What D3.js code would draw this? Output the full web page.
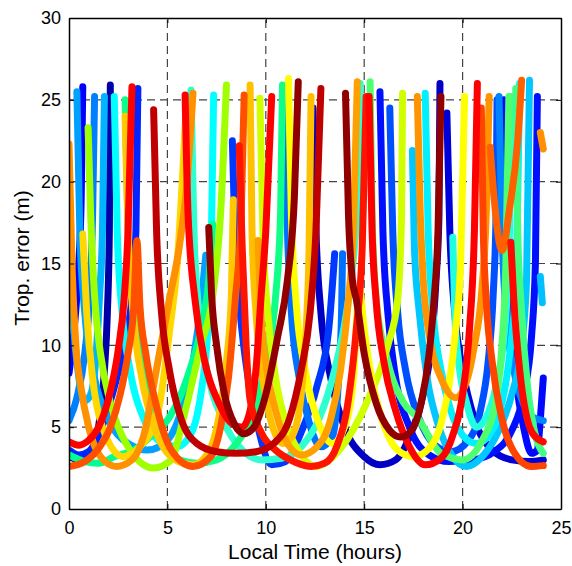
<!DOCTYPE html>
<html>
<head>
<meta charset="utf-8">
<script src="https://cdn.jsdelivr.net/npm/d3@7"></script>
<style>
  body { margin: 0; background: #fff; }
  svg { display: block; font-family: "Liberation Sans", Arial, sans-serif; }
</style>
</head>
<body>
<svg id="chart" width="572" height="566"></svg>
<script>
// tick values
const xTicks = [0, 5, 10, 15, 20, 25];
const yTicks = [0, 5, 10, 15, 20, 25, 30];

// passes: [local time (h), trop. error (m)]
const passDB1 = [[0,3.2],[0.6,3.0],[1.1,3.5],[1.5,5],[1.8,8.5],[1.95,12],[2.05,17],[2.1,25.9]];
const passDB2 = [[12.4,24.5],[12.55,17],[12.8,12],[13.3,8],[14.0,5],[15.0,3.2],[15.8,2.7],[16.6,3.0],[17.4,4.7],[18.0,7],[18.4,10],[18.65,14],[18.8,18],[18.85,26.0]];
const passDB3 = [[19.2,24.2],[19.35,17],[19.6,12],[20.0,8.5],[20.6,5.5],[21.5,3.6],[22.5,3.0],[23.4,2.9],[24.1,3.0]];
const passB1a = [[0,8.3],[0.3,11.5],[0.5,15],[0.62,19],[0.7,25.8]];
const passB1b = [[22.1,25.0],[22.2,17],[22.4,12],[22.7,8],[23.1,5],[23.5,3.4],[23.8,3.6],[23.95,5.5],[24.1,8.0]];
const passB2 = [[0,3.6],[0.5,3.3],[1.0,3.5],[1.5,4.5],[2.2,7],[2.8,10],[3.2,13],[3.4,17],[3.5,25.7]];
const passB3 = [[8.3,22.5],[8.45,16],[8.7,12],[9.1,8],[9.6,5],[10.3,2.7],[11.0,2.9],[11.8,4.7],[12.6,7.5],[13.2,11],[13.5,15.6]];
const passB4 = [[15.8,25.5],[15.95,17],[16.2,12],[16.6,8],[17.3,5],[18.3,3.3],[19.3,2.9],[20.5,3.0],[21.6,3.5],[22.5,4.8],[23.1,7],[23.5,10.5],[23.7,15],[23.8,25.2]];
const passB5 = [[16.3,24.5],[16.45,17],[16.7,12],[17.1,8.5],[17.8,5.5],[18.6,3.9],[19.4,3.5],[20.3,4.2],[20.9,6],[21.3,9],[21.55,13],[21.7,18],[21.75,25.0]];
const passLB1a = [[0,5.4],[0.4,6.8],[0.8,9.5],[1.05,13],[1.2,18],[1.3,25.2]];
const passLB1b = [[21.85,25.2],[22.0,17],[22.2,12],[22.6,8.5],[23.1,6.4],[23.6,5.6],[24.1,5.4]];
const passLB2 = [[0.4,25.5],[0.55,17],[0.8,12],[1.3,8],[2.0,5.5],[3.0,4.0],[4.0,3.6],[5.0,4.2],[5.7,6],[6.3,9],[6.75,13],[6.95,15.5]];
const passLB3a = [[0,19],[0.1,15],[0.25,11],[0.45,8.5],[0.8,6.6],[1.1,7],[1.35,9],[1.55,13],[1.7,17],[1.8,25.2]];
const passLB3b = [[23.95,14.2],[24.05,12.6]];
const passLB4 = [[10.95,25.0],[11.1,17],[11.3,12],[11.7,8],[12.2,5.3],[12.8,3.8],[13.4,4.5],[13.7,8],[13.85,12],[13.9,15.6]];
const passC1 = [[2.3,25.2],[2.45,17],[2.7,12],[3.1,8.5],[3.8,5.5],[4.8,4.0],[5.5,3.8],[6.2,4.6],[6.7,7],[7.0,10],[7.2,14],[7.35,25.3]];
const passC3 = [[17.45,21.9],[17.55,16],[17.8,12],[18.2,8],[18.8,5],[19.5,3.2],[20.2,2.6],[21.0,3.2],[21.8,4.7],[22.5,7],[23.0,10],[23.25,14],[23.4,26.2]];
const passC4 = [[18.1,25.4],[18.25,17],[18.5,12],[18.9,8.5],[19.4,6],[20.0,4.5],[20.7,4.0],[21.4,4.6],[22.0,6.5],[22.4,9.5],[22.7,14],[22.9,26.0]];
const passC5 = [[19.5,16.6],[19.6,12],[19.8,9],[20.2,6.5],[20.7,5.0],[21.2,5.6],[21.7,7.5],[22.1,10.5],[22.3,14],[22.4,18],[22.45,25.2]];
const passC2 = [[6.2,25.6],[6.35,17],[6.6,12],[7.1,8],[7.8,5.5],[8.8,3.6],[9.8,3.0],[10.8,3.1],[11.8,3.8],[12.7,5.5],[13.5,8.5],[14.1,12],[14.5,16],[14.7,20],[14.8,26.0]];
const passSG1a = [[0,3.3],[0.8,2.9],[1.5,2.8],[2.3,3.2],[3.3,3.6],[4.3,4.6],[5.1,5.6],[6.0,8],[6.7,11],[7.1,14],[7.3,17.4]];
const passSG1b = [[22.7,25.7],[22.8,17],[23.0,12],[23.3,7.5],[23.7,4.5],[24.1,3.4]];
const passSG2 = [[2.85,25],[3.0,17],[3.3,12],[3.8,8],[4.6,5],[5.6,3.0],[6.5,2.8],[7.5,3.0],[8.5,4],[9.4,6],[10.1,9.5],[10.5,13],[10.75,18],[10.85,25.9]];
const passSG4 = [[15.3,26.1],[15.4,18],[15.6,13],[16.2,9],[17.0,6.5],[17.7,5.6],[18.9,3.4],[20.0,3.0],[21.0,4.2],[21.7,6.7],[22.0,10],[22.2,15],[22.35,25.2]];
const passYG1 = [[0.97,23.3],[1.1,18],[1.3,13],[1.6,9.5],[2.1,6.5],[2.9,4],[4.3,2.5],[5.2,3.0],[5.8,5.5],[6.7,10.0],[7.3,13],[7.7,18],[8.0,25.9]];
const passYG2 = [[9.7,25.1],[9.85,17],[10.1,12],[10.5,8],[11.1,5],[11.8,3.3],[12.5,2.6],[13.8,3.7],[15.2,6.7],[16.2,10],[16.7,12.8],[16.9,18],[16.95,25.4]];
const passY3 = [[11.15,26.3],[11.3,18],[11.55,12.5],[12.0,8.5],[12.7,5.2],[13.4,4.0],[14.0,5.0],[14.45,8],[14.75,13.5],[15.0,11],[15.3,8.5],[15.9,5.5],[16.7,3.6],[17.5,3.2],[18.3,3.7],[18.9,5.2],[19.3,7.5],[19.65,11],[19.9,15],[20.1,25.2]];
const passYO1 = [[0.7,16.8],[0.9,12],[1.2,8],[1.7,5],[2.75,3.2],[3.6,3.8],[4.5,5.8],[5.1,10.8],[5.5,15],[5.8,21],[5.95,24.5]];
const passYO2 = [[2.85,24.0],[3.0,17],[3.25,12],[3.7,8],[4.4,4.8],[5.4,3.0],[6.3,2.7],[7.1,3.5],[7.6,5.5],[8.0,9],[8.25,13],[8.35,18.9]];
const passYO3 = [[9.2,25.9],[9.3,17],[9.5,12],[9.85,8],[10.3,5.2],[10.9,4.0],[11.4,4.6],[11.8,7],[12.05,11],[12.2,16],[12.3,25.2]];
const passO1a = [[0,22.3],[0.15,15],[0.35,10],[0.6,7.5],[1.0,5],[1.6,3.2],[2.4,2.6],[3.2,3.0],[3.8,4.5],[4.5,8.9],[5.1,12.8],[5.6,16],[6.0,20],[6.3,25.4]];
const passO1b = [[23.95,23.0],[24.1,22.0]];
const passO2 = [[9.6,16.4],[9.75,12],[10.0,9],[10.5,6],[11.1,4.0],[11.8,3.3],[12.6,3.8],[13.3,5.5],[13.8,8.5],[14.2,12.8],[14.45,17],[14.65,26.1]];
const passO3 = [[17.7,25.2],[17.85,18],[18.0,14],[18.4,10],[18.9,8],[19.65,6.8],[20.2,7.8],[20.6,10],[20.95,13],[21.2,18],[21.35,25.2]];
const passOR1a = [[0,2.6],[0.8,2.9],[1.5,3.7],[2.1,5.0],[2.6,7.0],[3.0,9.5],[3.3,12.5],[3.45,16.4],[3.6,12.5],[3.9,9.5],[4.4,6.5],[5.2,3.6],[6.3,2.6],[7.2,3.2],[7.7,5],[8.1,8],[8.45,12.8],[8.75,18],[8.9,25.3]];
const passOR1b = [[20.95,24.5],[21.05,17],[21.2,12.8],[21.5,9],[22.0,5.5],[22.6,3.5],[23.5,2.6],[24.1,2.65]];
const passOR3 = [[21.4,22.1],[21.6,19],[22.0,15.8],[22.4,18.5],[22.8,22.5],[23.0,26.2]];
const passR1a = [[0,4.1],[0.5,3.9],[1.0,4.2],[1.5,5.0],[2.0,6.7],[2.5,9.7],[2.8,12.8],[3.0,17],[3.2,25.8]];
const passR1b = [[22.45,16.3],[22.6,12.8],[22.9,8.5],[23.4,5.0],[23.8,4.3],[24.1,4.1]];
const passR2 = [[5.9,25.3],[6.05,18],[6.4,12.8],[6.9,9],[7.6,6.5],[8.3,5.2],[8.8,5.0],[9.2,6],[9.5,8.5],[9.75,12.8],[10.0,17],[10.3,25.2]];
const passR3 = [[8.65,22.2],[8.8,16],[9.0,10],[9.2,6.7],[9.8,4.6],[10.5,3.6],[11.25,3.0],[12.3,2.6],[13.0,2.8],[13.6,3.8],[14.2,6.7],[14.6,11],[14.9,16],[15.1,25.2]];
const passR4 = [[15.25,25.2],[15.4,17],[15.6,12.8],[16.0,9],[16.6,6],[17.3,3.8],[18.1,2.7],[18.9,3.1],[19.5,4.5],[20.0,7],[20.35,11],[20.6,17],[20.75,26.0]];
const passDRA = [[4.3,24.4],[4.45,17],[4.7,12],[5.1,8.5],[5.7,5.5],[6.5,4.0],[7.5,3.5],[8.5,3.4],[9.5,3.5],[10.4,4.0],[11.2,5.5],[11.8,8.5],[12.25,12],[12.55,17],[12.8,25.7]];
const passDRB = [[7.1,17.2],[7.25,13],[7.5,10],[7.9,7],[8.4,5.2],[8.9,4.6],[9.4,5.0],[10.0,7],[10.6,10.5],[11.1,14],[11.45,19],[11.65,26.1]];
const passDRC = [[14.05,25.4],[14.2,18],[14.4,14],[14.6,12.8],[15.0,9.5],[15.6,6.5],[16.3,4.8],[16.85,4.4],[17.4,4.8],[17.9,6.5],[18.3,9.5],[18.55,12.8],[18.75,17],[18.9,25.2]];

// drawing order (blue first, dark red last) and colours (jet)
const passList = [
  passDB1, passDB2, passDB3, passB1a, passB1b, passB2, passB4, passB3, passB5,
  passLB1a, passLB1b, passLB4, passLB2, passLB3a, passLB3b, passC3,
  passC1, passC4, passC5, passC2, passSG1a, passSG2, passSG4, passSG1b,
  passYG1, passYG2, passY3, passYO1, passYO2, passYO3,
  passO1a, passO1b, passO2, passO3, passOR1a, passOR3, passOR1b,
  passR1a, passR1b, passR2, passR3, passR4,
  passDRA, passDRB, passDRC
];
const passColors = [
  "#0000a8", "#0000c4", "#0000d8", "#0000ff", "#0008ff", "#0024ff", "#0010ff", "#0038ff", "#0050ff",
  "#0080ff", "#0084ff", "#0070ff", "#00a0ff", "#00b4ff", "#00c0ff", "#00c8ff",
  "#00ffff", "#00f0ff", "#20ffe0", "#30ffd0", "#00ff90", "#10ff88", "#50ff70", "#40ff80",
  "#a0ff00", "#d0ff00", "#ffff00", "#ffd800", "#ffc800", "#ffc000",
  "#ff9000", "#ff9000", "#ffa000", "#ff9400", "#ff5000", "#ff6000", "#ff4400",
  "#ff0000", "#ff0800", "#ff0000", "#ff1400", "#ff0000",
  "#c00000", "#900000", "#900000"
];

const svg = d3.select("#chart");
const plotLeft = 69, plotRight = 561, plotTop = 18, plotBottom = 509;

const x = d3.scaleLinear().domain([0, 25]).range([plotLeft, plotRight]);
const y = d3.scaleLinear().domain([0, 30]).range([plotBottom, plotTop]);

// grid
const grid = svg.append("g").attr("stroke", "#444").attr("stroke-width", 1.2)
  .attr("stroke-dasharray", "8,5");
grid.selectAll(".gx").data(xTicks.slice(1, -1)).enter().append("line")
  .attr("x1", d => x(d)).attr("x2", d => x(d)).attr("y1", plotBottom).attr("y2", plotTop);
grid.selectAll(".gy").data(yTicks.slice(1, -1)).enter().append("line")
  .attr("y1", d => y(d)).attr("y2", d => y(d)).attr("x1", plotLeft).attr("x2", plotRight);

// data lines
svg.append("clipPath").attr("id", "clip").append("rect")
  .attr("x", plotLeft).attr("y", plotTop).attr("width", plotRight - plotLeft).attr("height", plotBottom - plotTop);

const line = d3.line().x(d => x(d[0])).y(d => y(d[1])).curve(d3.curveMonotoneX);

svg.append("g").attr("clip-path", "url(#clip)")
  .selectAll("path").data(passList).enter().append("path")
  .attr("d", line)
  .attr("fill", "none")
  .attr("stroke", (d, i) => passColors[i])
  .attr("stroke-width", 7)
  .attr("stroke-linecap", "round")
  .attr("stroke-linejoin", "round");

// axes
const xAxis = d3.axisBottom(x).tickValues(xTicks).tickSizeInner(-5).tickSizeOuter(0).tickPadding(12);
const yAxis = d3.axisLeft(y).tickValues(yTicks).tickSizeInner(-5).tickSizeOuter(0).tickPadding(8);
const gx = svg.append("g").attr("transform", `translate(0,${plotBottom})`).call(xAxis);
const gy = svg.append("g").attr("transform", `translate(${plotLeft},0)`).call(yAxis);
const gxt = svg.append("g").attr("transform", `translate(0,${plotTop})`)
  .call(d3.axisTop(x).tickValues(xTicks).tickSizeInner(-5).tickSizeOuter(0).tickFormat(""));
const gyr = svg.append("g").attr("transform", `translate(${plotRight},0)`)
  .call(d3.axisRight(y).tickValues(yTicks).tickSizeInner(-5).tickSizeOuter(0).tickFormat(""));
[gx, gy, gxt, gyr].forEach(g => {
  g.select(".domain").attr("stroke", "#000").attr("stroke-width", 1.5);
  g.selectAll(".tick line").attr("stroke", "#000");
  g.selectAll("text").attr("fill", "#000").style("font-size", "18px")
    .style("font-family", "'Liberation Sans', Arial, sans-serif");
});

// titles
svg.append("text").attr("x", (plotLeft + plotRight) / 2).attr("y", 559)
  .attr("text-anchor", "middle").style("font-size", "21px").text("Local Time (hours)");
svg.append("text").attr("transform", `translate(29,258) rotate(-90)`)
  .attr("text-anchor", "middle").style("font-size", "21px").text("Trop. error (m)");
</script>
</body>
</html>
